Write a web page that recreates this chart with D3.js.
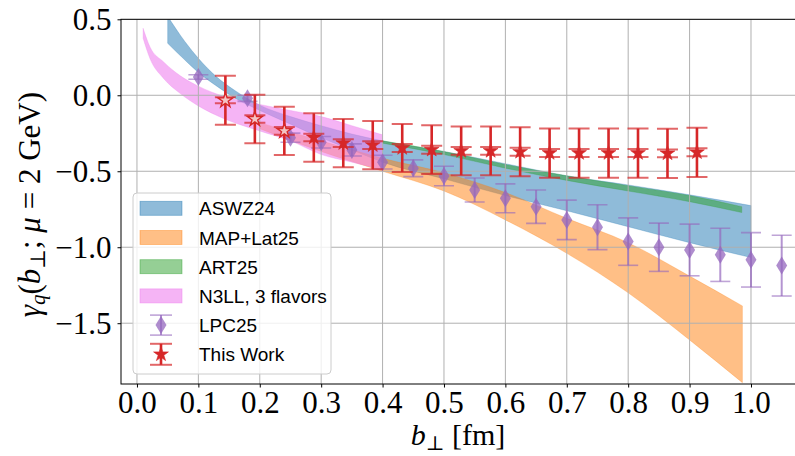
<!DOCTYPE html>
<html>
<head>
<meta charset="utf-8">
<script src="https://cdn.jsdelivr.net/npm/d3@7"></script>
<style>
  body { margin: 0; background: #fff; }
  svg { display: block; }
</style>
</head>
<body>
<script>
const outerWidth = 795;
const outerHeight = 456;

// ---- data ----
const xTicks = [0.0, 0.1, 0.2, 0.3, 0.4, 0.5, 0.6, 0.7, 0.8, 0.9, 1.0];
const yTicks = [0.5, 0.0, -0.5, -1.0, -1.5];

// ASWZ24 band
const aswzX  = [0.05, 0.078, 0.1, 0.13, 0.16, 0.2, 0.25, 0.3, 0.35, 0.4, 0.5, 0.6, 0.7, 0.8, 0.9, 1.0];
const aswzHi = [0.52, 0.354, 0.243, 0.12, 0.03, -0.065, -0.14, -0.2, -0.255, -0.3, -0.37, -0.45, -0.53, -0.59, -0.655, -0.726];
const aswzLo = [0.342, 0.232, 0.15, 0.06, -0.02, -0.10, -0.19, -0.28, -0.36, -0.44, -0.55, -0.66, -0.76, -0.865, -0.97, -1.068];

// MAP+Lat25 band
const mapX  = [0.2, 0.3, 0.4, 0.5, 0.6, 0.7, 0.8, 0.9, 0.986];
const mapHi = [-0.18, -0.30, -0.415, -0.51, -0.64, -0.81, -0.97, -1.19, -1.386];
const mapLo = [-0.22, -0.37, -0.50, -0.63, -0.82, -1.04, -1.30, -1.61, -1.891];

// ART25 band
const artX  = [0.4, 0.5, 0.6, 0.7, 0.8, 0.9, 0.985];
const artHi = [-0.30, -0.37, -0.455, -0.53, -0.595, -0.66, -0.733];
const artLo = [-0.315, -0.39, -0.48, -0.56, -0.63, -0.70, -0.772];

// N3LL, 3 flavors band
const n3llX  = [0.01, 0.021, 0.043, 0.07, 0.1, 0.14, 0.2, 0.25, 0.3, 0.35, 0.4];
const n3llHi = [0.441, 0.32, 0.221, 0.13, 0.06, -0.005, -0.06, -0.10, -0.14, -0.2, -0.26];
const n3llLo = [0.375, 0.243, 0.112, 0.013, -0.07, -0.151, -0.235, -0.30, -0.39, -0.44, -0.49];

// LPC25 points
const lpcX   = [0.1, 0.18, 0.25, 0.3, 0.35, 0.4, 0.45, 0.5, 0.55, 0.6, 0.65, 0.7, 0.75, 0.8, 0.85, 0.9, 0.95, 1.0, 1.05];
const lpcY   = [0.12, -0.02, -0.279, -0.309, -0.36, -0.44, -0.48, -0.531, -0.623, -0.678, -0.733, -0.82, -0.868, -0.963, -1.0, -1.018, -1.05, -1.083, -1.121];
const lpcErr = [0.015, 0.02, 0.03, 0.038, 0.04, 0.045, 0.055, 0.064, 0.079, 0.095, 0.11, 0.13, 0.148, 0.156, 0.159, 0.17, 0.175, 0.179, 0.2];

// This Work points
const workX    = [0.144, 0.192, 0.24, 0.288, 0.336, 0.384, 0.432, 0.48, 0.528, 0.576, 0.624, 0.672, 0.72, 0.768, 0.816, 0.864, 0.912];
const workY    = [-0.033, -0.156, -0.234, -0.278, -0.315, -0.328, -0.347, -0.358, -0.366, -0.366, -0.372, -0.38, -0.38, -0.38, -0.38, -0.382, -0.375];
const workErr  = [0.161, 0.159, 0.159, 0.159, 0.159, 0.159, 0.158, 0.16, 0.16, 0.16, 0.161, 0.162, 0.162, 0.162, 0.162, 0.162, 0.162];
const workStat = [0.02, 0.024, 0.025, 0.025, 0.025, 0.025, 0.026, 0.026, 0.026, 0.026, 0.026, 0.026, 0.026, 0.026, 0.026, 0.026, 0.026];

const legendLabels = ["ASWZ24", "MAP+Lat25", "ART25", "N3LL, 3 flavors", "LPC25", "This Work"];

// ---- layout ----
const plotLeft = 121, plotRight = 796, plotTop = 19.3, plotBottom = 384;
const serif = "'Liberation Serif', 'DejaVu Serif', serif";
const sans = "'Liberation Sans', Arial, sans-serif";

const blue = "#1f77b4", orange = "#ff7f0e", green = "#2ca02c", red = "#d62728", purple = "#9467bd";

const svg = d3.select("body").append("svg")
  .attr("width", outerWidth)
  .attr("height", outerHeight);

const xScale = d3.scaleLinear().domain([-0.026, 1.0733]).range([plotLeft, plotRight]);
const yScale = d3.scaleLinear().domain([-1.9, 0.5]).range([plotBottom, plotTop]);

svg.append("clipPath").attr("id", "plot-clip")
  .append("rect")
  .attr("x", plotLeft).attr("y", plotTop)
  .attr("width", plotRight - plotLeft).attr("height", plotBottom - plotTop);

const plot = svg.append("g").attr("clip-path", "url(#plot-clip)");

// bands
const drawBand = (xs, lo, hi, color, alpha) => {
  const pts = xs.map((x, i) => ({ x, lo: lo[i], hi: hi[i] }));
  const area = d3.area()
    .x(d => xScale(d.x))
    .y0(d => yScale(d.lo))
    .y1(d => yScale(d.hi))
    .curve(d3.curveMonotoneX);
  plot.append("path").datum(pts)
    .attr("d", area)
    .attr("fill", color)
    .attr("fill-opacity", alpha)
    .attr("stroke", color)
    .attr("stroke-opacity", alpha * 0.6)
    .attr("stroke-width", 0.8);
};

drawBand(aswzX, aswzLo, aswzHi, blue, 0.5);
drawBand(mapX, mapLo, mapHi, orange, 0.5);
drawBand(artX, artLo, artHi, green, 0.5);
drawBand(n3llX, n3llLo, n3llHi, "violet", 0.6);

// grid
plot.append("g").selectAll("line").data(xTicks).join("line")
  .attr("x1", d => xScale(d)).attr("x2", d => xScale(d))
  .attr("y1", plotTop).attr("y2", plotBottom)
  .attr("stroke", "#b0b0b0").attr("stroke-width", 1);
plot.append("g").selectAll("line").data(yTicks).join("line")
  .attr("y1", d => yScale(d)).attr("y2", d => yScale(d))
  .attr("x1", plotLeft).attr("x2", plotRight)
  .attr("stroke", "#b0b0b0").attr("stroke-width", 1);

// marker shapes
const starPath = (r) => {
  const pts = [];
  for (let i = 0; i < 10; i++) {
    const rr = i % 2 === 0 ? r : r * 0.382;
    const a = -Math.PI / 2 + i * Math.PI / 5;
    pts.push([rr * Math.cos(a), rr * Math.sin(a)]);
  }
  return "M" + pts.map(p => p[0].toFixed(2) + "," + p[1].toFixed(2)).join("L") + "Z";
};
const diamondPath = (w, h) => `M0,${-h}L${w},0L0,${h}L${-w},0Z`;

// LPC25 errorbars
const lpc = lpcX.map((x, i) => ({ x, y: lpcY[i], e: lpcErr[i] }));
const lpcG = plot.append("g").selectAll("g").data(lpc).join("g")
  .attr("transform", d => `translate(${xScale(d.x)},0)`);
lpcG.append("line")
  .attr("y1", d => yScale(d.y + d.e)).attr("y2", d => yScale(d.y - d.e))
  .attr("stroke", purple).attr("stroke-opacity", 0.7).attr("stroke-width", 2);
[1, -1].forEach(s => {
  lpcG.append("line")
    .attr("x1", -10).attr("x2", 10)
    .attr("y1", d => yScale(d.y + s * d.e)).attr("y2", d => yScale(d.y + s * d.e))
    .attr("stroke", purple).attr("stroke-opacity", 0.6).attr("stroke-width", 1.6);
});
lpcG.append("path")
  .attr("d", diamondPath(5.5, 9))
  .attr("transform", d => `translate(0,${yScale(d.y)})`)
  .attr("fill", purple).attr("fill-opacity", 0.75);

// This Work errorbars
const work = workX.map((x, i) => ({ x, y: workY[i], e: workErr[i], s: workStat[i], i }));
const workG = plot.append("g").selectAll("g").data(work).join("g")
  .attr("transform", d => `translate(${xScale(d.x)},0)`);
workG.append("line")
  .attr("y1", d => yScale(d.y + d.e)).attr("y2", d => yScale(d.y - d.e))
  .attr("stroke", red).attr("stroke-width", 2.6);
[["e", 1], ["e", -1], ["s", 1], ["s", -1]].forEach(([k, s]) => {
  workG.append("line")
    .attr("x1", -10.5).attr("x2", 10.5)
    .attr("y1", d => yScale(d.y + s * d[k])).attr("y2", d => yScale(d.y + s * d[k]))
    .attr("stroke", red).attr("stroke-opacity", 0.7).attr("stroke-width", 2);
});
workG.append("path")
  .attr("d", starPath(7.8))
  .attr("transform", d => `translate(0,${yScale(d.y)})`)
  .attr("fill", d => d.i < 3 ? "#f4c4c4" : red)
  .attr("stroke", red)
  .attr("stroke-width", d => d.i < 3 ? 1.4 : 0.6);

// axes
const xAxis = d3.axisBottom(xScale).tickValues(xTicks).tickSize(3.5).tickSizeOuter(0)
  .tickPadding(3).tickFormat(d3.format(".1f"));
const yAxis = d3.axisLeft(yScale).tickValues(yTicks).tickSize(3.5).tickSizeOuter(0)
  .tickPadding(6).tickFormat(d3.format(".1f"));

const xAxisG = svg.append("g").attr("transform", `translate(0,${plotBottom})`).call(xAxis);
const yAxisG = svg.append("g").attr("transform", `translate(${plotLeft},0)`).call(yAxis);
[xAxisG, yAxisG].forEach(a => {
  a.select(".domain").remove();
  a.selectAll("text").attr("font-family", serif).attr("font-size", 31).attr("fill", "#000");
  a.selectAll("line").attr("stroke", "#000");
});
yAxisG.selectAll("text").attr("dy", "0.34em");

// spines
svg.append("rect")
  .attr("x", plotLeft).attr("y", plotTop)
  .attr("width", plotRight - plotLeft).attr("height", plotBottom - plotTop)
  .attr("fill", "none").attr("stroke", "#000").attr("stroke-width", 1);

// axis labels
const xLabel = svg.append("text")
  .attr("x", (plotLeft + 795) / 2).attr("y", 445)
  .attr("text-anchor", "middle")
  .attr("font-family", serif).attr("font-size", 30);
xLabel.append("tspan").attr("font-style", "italic").text("b");
xLabel.append("tspan").attr("font-size", 20).attr("dy", 5).text("⊥");
xLabel.append("tspan").attr("dy", -5).text(" [fm]");

const yLabel = svg.append("text")
  .attr("transform", `translate(40,${(plotTop + plotBottom) / 2 + 3}) rotate(-90)`)
  .attr("text-anchor", "middle")
  .attr("font-family", serif).attr("font-size", 31);
yLabel.append("tspan").attr("font-style", "italic").text("γ");
yLabel.append("tspan").attr("font-style", "italic").attr("font-size", 21).attr("dy", 5).text("q");
yLabel.append("tspan").attr("dy", -5).text("(");
yLabel.append("tspan").attr("font-style", "italic").text("b");
yLabel.append("tspan").attr("font-size", 21).attr("dy", 5).text("⊥");
yLabel.append("tspan").attr("dy", -5).text("; ");
yLabel.append("tspan").attr("font-style", "italic").text("μ");
yLabel.append("tspan").text(" = 2 GeV)");

// legend
const legend = svg.append("g");
legend.append("rect")
  .attr("x", 133).attr("y", 193).attr("width", 198).attr("height", 181)
  .attr("rx", 4)
  .attr("fill", "#fff").attr("fill-opacity", 0.8)
  .attr("stroke", "#cccccc").attr("stroke-width", 1);

const rowY = d3.range(legendLabels.length).map(i => 208.3 + i * 29.2);
const patchColors = [[blue, 0.5], [orange, 0.5], [green, 0.5], ["violet", 0.6]];
patchColors.forEach(([c, a], i) => {
  legend.append("rect")
    .attr("x", 140).attr("y", rowY[i] - 7).attr("width", 42).attr("height", 14)
    .attr("fill", c).attr("fill-opacity", a)
    .attr("stroke", c).attr("stroke-opacity", a).attr("stroke-width", 0.8);
});

// errorbar handles
const hx = 161;
const lpcH = legend.append("g").attr("transform", `translate(${hx},${rowY[4]})`);
lpcH.append("line").attr("y1", -10).attr("y2", 10)
  .attr("stroke", purple).attr("stroke-opacity", 0.7).attr("stroke-width", 2);
[-10, 10].forEach(v => lpcH.append("line").attr("x1", -11).attr("x2", 11).attr("y1", v).attr("y2", v)
  .attr("stroke", purple).attr("stroke-opacity", 0.6).attr("stroke-width", 1.6));
lpcH.append("path").attr("d", diamondPath(5.5, 9)).attr("fill", purple).attr("fill-opacity", 0.75);

const workH = legend.append("g").attr("transform", `translate(${hx},${rowY[5]})`);
workH.append("line").attr("y1", -10.5).attr("y2", 10.5)
  .attr("stroke", red).attr("stroke-width", 2.6);
[-10.5, 10.5].forEach(v => workH.append("line").attr("x1", -11).attr("x2", 11).attr("y1", v).attr("y2", v)
  .attr("stroke", red).attr("stroke-opacity", 0.7).attr("stroke-width", 2));
workH.append("path").attr("d", starPath(7.8)).attr("fill", red).attr("stroke", red).attr("stroke-width", 0.6);

legend.selectAll("text.lbl").data(legendLabels).join("text")
  .attr("class", "lbl")
  .attr("x", 199)
  .attr("y", (d, i) => rowY[i] + 7)
  .attr("font-family", sans).attr("font-size", 19)
  .attr("fill", "#000")
  .text(d => d);
</script>
</body>
</html>
